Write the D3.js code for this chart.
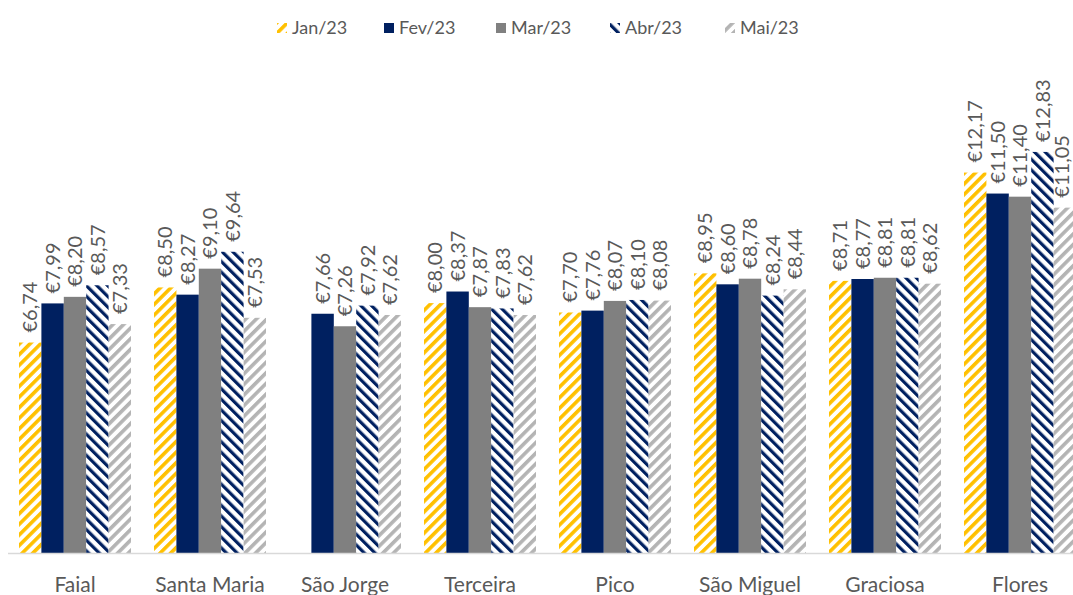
<!DOCTYPE html>
<html><head><meta charset="utf-8">
<script src="https://cdn.jsdelivr.net/npm/d3@7"></script>
<style>body{margin:0;background:#fff}svg{display:block}</style>
</head><body>
<svg id="c" width="1073" height="595"></svg>
<script>
const categories = ["Faial","Santa Maria","São Jorge","Terceira","Pico","São Miguel","Graciosa","Flores"];
const seriesNames = ["Jan/23","Fev/23","Mar/23","Abr/23","Mai/23"];
const jan = [6.74, 8.50, null, 8.00, 7.70, 8.95, 8.71, 12.17];
const fev = [7.99, 8.27, 7.66, 8.37, 7.76, 8.60, 8.77, 11.50];
const mar = [8.20, 9.10, 7.26, 7.87, 8.07, 8.78, 8.81, 11.40];
const abr = [8.57, 9.64, 7.92, 7.83, 8.10, 8.24, 8.81, 12.83];
const mai = [7.33, 7.53, 7.62, 7.62, 8.08, 8.44, 8.62, 11.05];
const seriesValues = [jan, fev, mar, abr, mai];

const svg = d3.select("#c");
const font = "Lato, 'Open Sans', sans-serif";
const textColor = "#595959";

// patterns
const defs = svg.append("defs");
function stripePattern(id, color, dir, period, width) {
  const p = defs.append("pattern").attr("id", id).attr("patternUnits","userSpaceOnUse")
    .attr("width", period).attr("height", period)
    .attr("patternTransform", `rotate(${dir === "up" ? 45 : -45})`);
  p.append("rect").attr("width", period).attr("height", period).attr("fill", "#fff");
  p.append("rect").attr("x", 0).attr("y", 0).attr("width", width).attr("height", period).attr("fill", color);
}
stripePattern("pJan", "#FFC000", "up", 7.5, 3.6);
stripePattern("pAbr", "#002060", "down", 7.5, 3.2);
stripePattern("pMai", "#B4B4B4", "up", 7.5, 3.6);
const fills = ["url(#pJan)", "#002060", "#808080", "url(#pAbr)", "url(#pMai)"];

const x0 = d3.scaleBand().domain(categories).range([7.5, 1087.5]).padding(0);
const x1 = d3.scaleBand().domain(seriesNames).range([11.5, 123.5]).padding(0);
const y = d3.scaleLinear().domain([0, 14]).range([553.5, 553.5 - 14 * 31.3]);

const g = svg.append("g");
categories.forEach((cat, ci) => {
  seriesNames.forEach((s, si) => {
    const v = seriesValues[si][ci];
    if (v == null) return;
    const bx = x0(cat) + x1(s);
    g.append("rect").attr("x", bx).attr("y", y(v)).attr("width", x1.bandwidth()).attr("height", y(0) - y(v))
      .attr("fill", fills[si]);
    const cx = Math.min(bx + x1.bandwidth() / 2, 1062);
    const ty = y(v) - 10;
    g.append("text").attr("transform", `translate(${cx},${ty}) rotate(-90)`)
      .attr("dy", "0.36em").attr("text-anchor", "start")
      .attr("font-family", font).attr("font-size", 20).attr("fill", textColor)
      .text("€" + d3.format(".2f")(v).replace(".", ","));
  });
});

// axis
const axis = svg.append("g").attr("transform", `translate(0,${y(0)})`)
  .call(d3.axisBottom(x0).tickSize(0).tickPadding(0));
axis.select(".domain").attr("stroke", "#D9D9D9").attr("stroke-width", 1.5).attr("d", "M8,0H1073");
axis.selectAll("text").attr("font-family", font).attr("font-size", 21).attr("fill", textColor)
  .attr("dy", null).attr("y", 38);

// legend
const legendX = [277, 384, 496, 610, 725];
const lg = svg.append("g");
seriesNames.forEach((s, i) => {
  lg.append("rect").attr("x", legendX[i]).attr("y", 23).attr("width", 10).attr("height", 10).attr("fill", fills[i]);
  lg.append("text").attr("x", legendX[i] + 15).attr("y", 28).attr("dy", "0.35em")
    .attr("font-family", font).attr("font-size", 18).attr("fill", textColor).text(s);
});
</script>
</body></html>
